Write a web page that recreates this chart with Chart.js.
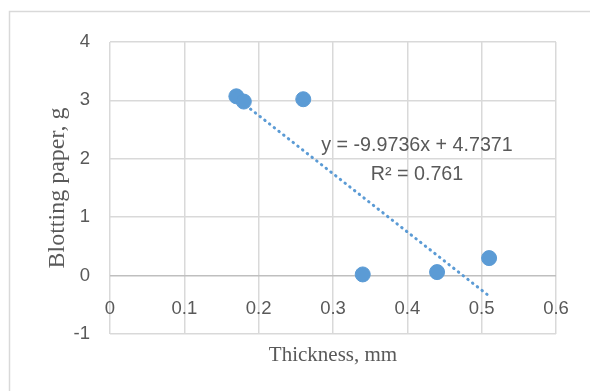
<!DOCTYPE html>
<html>
<head>
<meta charset="utf-8">
<script src="https://cdn.jsdelivr.net/npm/chart.js@4.4.0/dist/chart.umd.min.js"></script>
<style>
  body { margin: 0; background: #fff; }
  canvas { display: block; }
</style>
</head>
<body>
<canvas id="grafico" width="590" height="391"></canvas>
<script>
// dados
const thickness = [0.17, 0.18, 0.26, 0.34, 0.44, 0.51];
const blotting = [3.07, 2.98, 3.02, 0.02, 0.06, 0.30];
const xTicks = [0, 0.1, 0.2, 0.3, 0.4, 0.5, 0.6];
const yTicks = [-1, 0, 1, 2, 3, 4];
// linha de tendência (equação mostrada no gráfico)
const slope = -9.9736;
const intercept = 4.7371;
const rSquared = '0.761';

const azul = '#5B9BD5';
const cinza = '#595959';

const xMin = Math.min(...thickness);
const xMax = Math.max(...thickness);
const trend = [
    { x: xMin, y: slope * xMin + intercept },
    { x: xMax, y: slope * xMax + intercept }
];

// moldura e texto da equação
const extras = {
    id: 'extras',
    beforeDraw(chart) {
        const ctx = chart.ctx;
        ctx.save();
        ctx.fillStyle = '#fff';
        ctx.fillRect(0, 0, chart.width, chart.height);
        ctx.strokeStyle = '#d9d9d9';
        ctx.lineWidth = 1.5;
        ctx.strokeRect(9.5, 11.5, 700, 500);
        ctx.restore();
    },
    afterDatasetsDraw(chart) {
        const ctx = chart.ctx;
        const x = chart.scales.x.getPixelForValue(0.413);
        const y = chart.scales.y.getPixelForValue(2.23);
        ctx.save();
        ctx.font = '19.7px "Liberation Sans", sans-serif';
        ctx.fillStyle = cinza;
        ctx.textAlign = 'center';
        ctx.textBaseline = 'middle';
        ctx.fillText('y = ' + slope + 'x + ' + intercept, x, y);
        ctx.fillText('R\u00B2 = ' + rSquared, x, y + 29);
        ctx.restore();
    }
};

new Chart(document.getElementById('grafico'), {
    type: 'scatter',
    data: {
        datasets: [{
            label: 'Blotting paper',
            data: thickness.map((t, i) => ({ x: t, y: blotting[i] })),
            backgroundColor: azul,
            borderColor: azul,
            pointRadius: 7.5,
            order: 1
        }, {
            label: 'Trend',
            type: 'line',
            data: trend,
            borderColor: azul,
            borderWidth: 3,
            borderDash: [0.5, 5.5],
            borderCapStyle: 'round',
            pointRadius: 0,
            fill: false,
            order: 2
        }]
    },
    options: {
        responsive: false,
        animation: false,
        layout: { padding: { left: 0, right: 34, top: 42, bottom: 0 } },
        plugins: {
            legend: { display: false },
            tooltip: { enabled: false }
        },
        scales: {
            x: {
                type: 'linear',
                min: xTicks[0],
                max: xTicks[xTicks.length - 1],
                afterBuildTicks: (scale) => { scale.ticks = xTicks.map(v => ({ value: v })); },
                afterFit: (scale) => { scale.height = 57; },
                grid: { color: '#d9d9d9', lineWidth: 1.5, drawTicks: false },
                border: { display: false },
                ticks: {
                    // rótulos acima da borda inferior, logo abaixo da linha do zero
                    mirror: true,
                    padding: 14,
                    color: cinza,
                    font: { family: '"Liberation Sans", sans-serif', size: 18.5 }
                },
                title: {
                    display: true,
                    text: 'Thickness, mm',
                    color: cinza,
                    font: { family: '"Liberation Serif", serif', size: 21 },
                    padding: { top: 0, bottom: 23 }
                }
            },
            y: {
                min: yTicks[0],
                max: yTicks[yTicks.length - 1],
                afterBuildTicks: (scale) => { scale.ticks = yTicks.map(v => ({ value: v })); },
                afterFit: (scale) => { scale.width = 110; },
                grid: {
                    color: (c) => c.tick && c.tick.value === 0 ? '#bfbfbf' : '#d9d9d9',
                    lineWidth: 1.5,
                    drawTicks: false
                },
                border: { display: false },
                ticks: {
                    padding: 20,
                    color: cinza,
                    font: { family: '"Liberation Sans", sans-serif', size: 18.5 }
                },
                title: {
                    display: true,
                    text: 'Blotting paper, g',
                    color: cinza,
                    font: { family: '"Liberation Serif", serif', size: 24 },
                    padding: { top: 43, bottom: 0 }
                }
            }
        }
    },
    plugins: [extras]
});
</script>
</body>
</html>
